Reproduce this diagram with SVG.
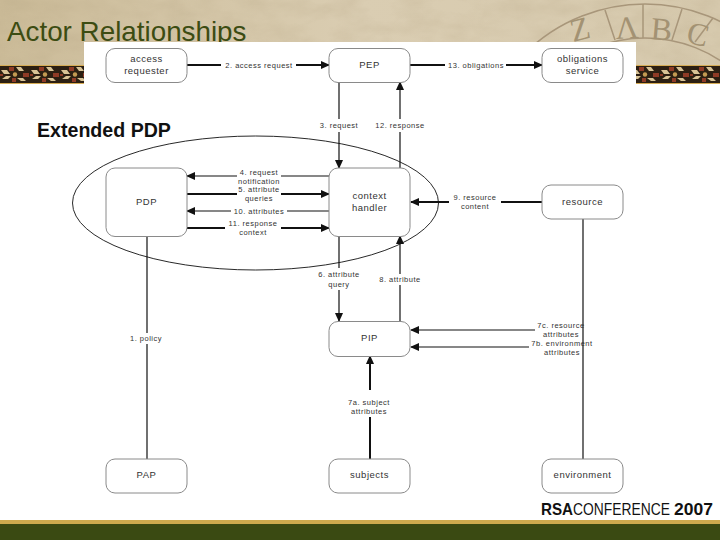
<svg xmlns="http://www.w3.org/2000/svg" width="720" height="540" viewBox="0 0 720 540">
<style>
text{font-family:"Liberation Sans",Arial,sans-serif}
.n{fill:#fff;stroke:#8a8a8a;stroke-width:1}
.nt{font-size:9.5px;fill:#333;text-anchor:middle;letter-spacing:.5px}
.l{font-size:7.5px;fill:#333;text-anchor:middle;letter-spacing:.5px}
.c{stroke:#111;stroke-width:1.2;fill:none}
.e{stroke:#111;stroke-width:.9;fill:none}
.t{stroke-width:2}
.a{marker-end:url(#h)}
.w{font-family:"Liberation Serif",serif;font-size:32px;fill:#a39273}
</style>
<defs>
<marker id="h" markerUnits="userSpaceOnUse" markerWidth="9" markerHeight="8" refX="8" refY="4" orient="auto"><path d="M0 0L9 4L0 8z" fill="#111"/></marker>
<linearGradient id="bg" x1="0" y1="0" x2="1" y2="0"><stop offset="0" stop-color="#cbbb98"/><stop offset=".5" stop-color="#dacdb2"/><stop offset="1" stop-color="#d6c9ad"/></linearGradient>
<filter id="tex" x="0" y="0" width="100%" height="100%"><feTurbulence type="fractalNoise" baseFrequency=".03 .06" numOctaves="4" seed="5"/><feColorMatrix values="0 0 0 0 .45 0 0 0 0 .36 0 0 0 0 .22 .8 0 0 0 -.28"/></filter>
<pattern id="st" width="30" height="17" patternUnits="userSpaceOnUse" x="0" y="66">
<rect width="30" height="17" fill="#2c1f12"/>
<path d="M1 4h6l3 4h-6zM16 1h5l3 4h-5zM2 13h6l3-3h-5zM17 12h6l3 3h-5z" fill="#d8c295"/>
<path d="M9 1h5v4h-5zM23 7h6v4h-6zM12 12h4v4h-4zM0 8h3v2h-3z" fill="#8f3b26"/>
<circle cx="15" cy="8.500" r="2.200" fill="#c39a52"/>
</pattern>
</defs>
<g id="background">
<rect width="720" height="84" fill="url(#bg)"/>
<rect width="720" height="84" filter="url(#tex)" opacity=".5"/>
<g fill="none" stroke="#a8967a" stroke-width="1.500">
<circle cx="645" cy="175" r="171"/><circle cx="645" cy="175" r="137"/>
<path d="M605 10L615 40M643 4V38M682 9L672 40M713 18L695 42"/>
</g>
<text class="w" x="573" y="42" transform="rotate(-14 573 42)">Z</text>
<text class="w" x="616" y="39" transform="rotate(-3 616 39)">Λ</text>
<text class="w" x="650" y="39" transform="rotate(5 650 39)">B</text>
<text class="w" x="685" y="42" transform="rotate(14 685 42)">C</text>
<rect y="65" width="720" height="19" fill="url(#st)"/>
<rect y="65" width="720" height="1" fill="#d6ac55"/><rect y="83" width="720" height="1" fill="#d6ac55"/>
<rect y="84" width="720" height="436" fill="#fff"/>
<text x="7" y="41" font-size="27.800" fill="#3c4c12">Actor Relationships</text>
<rect x="84" y="42" width="552" height="478" fill="#fff"/>
<rect y="520" width="720" height="4" fill="#cdaa4e"/>
<rect y="524" width="720" height="16" fill="#3a4a12"/>
</g>
<text x="37" y="137" font-size="19.600" font-weight="bold" fill="#111">Extended PDP</text>
<g id="connectors">
<ellipse class="e" cx="255.500" cy="203" rx="183" ry="67"/>
<path class="c t" d="M187 65H221"/><path class="c t a" d="M296 65H329"/>
<path class="c t" d="M410 65H445"/><path class="c t a" d="M506 65H542"/>
<path class="c" d="M339 82V119"/><path class="c a" d="M339 132V168"/>
<path class="c" d="M400 168V132"/><path class="c a" d="M400 119V82"/>
<path class="c" d="M329 176H281"/><path class="c a" d="M237 176H187"/>
<path class="c t" d="M187 194H237"/><path class="c t a" d="M281 194H329"/>
<path class="c" d="M329 211H287"/><path class="c a" d="M231 211H187"/>
<path class="c t" d="M187 228H225"/><path class="c t a" d="M281 228H329"/>
<path class="c t" d="M542 202H501"/><path class="c t a" d="M449 202H411"/>
<path class="c" d="M147 236V333"/><path class="c" d="M147 344V459"/>
<path class="c" d="M583 219V459"/>
<path class="c" d="M339 236V268"/><path class="c a" d="M339 290V321"/>
<path class="c" d="M400 321V285"/><path class="c a" d="M400 274V236"/>
<path class="c a" d="M535 330H411"/><path class="c a" d="M529 347H411"/>
<path class="c t a" d="M370 390V356"/><path class="c t" d="M370 459V417"/>
</g>
<g class="l">
<text class="l" x="259" y="68">2. access request</text>
<text class="l" x="476" y="68">13. obligations</text>
<text class="l" x="339" y="128">3. request</text>
<text class="l" x="400" y="128">12. response</text>
<text class="l" x="259" y="175">4. request</text><text class="l" x="259" y="184">notification</text>
<text class="l" x="259" y="192">5. attribute</text><text class="l" x="259" y="201">queries</text>
<text class="l" x="259" y="214">10. attributes</text>
<text class="l" x="253" y="226">11. response</text><text class="l" x="253" y="235">context</text>
<text class="l" x="475" y="200">9. resource</text><text class="l" x="475" y="209">content</text>
<text class="l" x="146" y="341">1. policy</text>
<text class="l" x="339" y="277">6. attribute</text><text class="l" x="339" y="287">query</text>
<text class="l" x="400" y="282">8. attribute</text>
<text class="l" x="561" y="328">7c. resource</text><text class="l" x="561" y="337">attributes</text>
<text class="l" x="562" y="346">7b. environment</text><text class="l" x="562" y="355">attributes</text>
<text class="l" x="369" y="405">7a. subject</text><text class="l" x="369" y="414">attributes</text>
</g>
<g id="access-requester"><rect class="n" x="106" y="48.500" width="81" height="34" rx="9"/><text class="nt" x="146.500" y="62">access</text><text class="nt" x="146.500" y="74">requester</text></g>
<g id="pep"><rect class="n" x="329" y="48.500" width="81" height="34" rx="9"/><text class="nt" x="369.500" y="68">PEP</text></g>
<g id="obligations-service"><rect class="n" x="542" y="48.500" width="81" height="34" rx="9"/><text class="nt" x="582.500" y="62">obligations</text><text class="nt" x="582.500" y="74">service</text></g>
<g id="pdp"><rect class="n" x="106" y="168" width="81" height="68.500" rx="9"/><text class="nt" x="146.500" y="205">PDP</text></g>
<g id="context-handler"><rect class="n" x="329" y="168" width="81" height="68.500" rx="9"/><text class="nt" x="369.500" y="199">context</text><text class="nt" x="369.500" y="211">handler</text></g>
<g id="resource"><rect class="n" x="542" y="185" width="81" height="34" rx="9"/><text class="nt" x="582.500" y="205">resource</text></g>
<g id="pip"><rect class="n" x="329" y="321.500" width="81" height="35" rx="9"/><text class="nt" x="369.500" y="341">PIP</text></g>
<g id="pap"><rect class="n" x="106" y="459" width="81" height="34" rx="9"/><text class="nt" x="146.500" y="478">PAP</text></g>
<g id="subjects"><rect class="n" x="329" y="459" width="81" height="34" rx="9"/><text class="nt" x="369.500" y="478">subjects</text></g>
<g id="environment"><rect class="n" x="542" y="459" width="81" height="34" rx="9"/><text class="nt" x="582.500" y="478">environment</text></g>
<g id="logo" font-size="16.500" fill="#111">
<text x="0" y="0" font-weight="bold" transform="translate(541 515) scale(.92 1)">RSA</text>
<text x="0" y="0" transform="translate(573 515) scale(.84 1)">CONFERENCE</text>
<text x="0" y="0" font-weight="bold" transform="translate(674 515) scale(1.06 1)">2007</text>
</g>
</svg>
